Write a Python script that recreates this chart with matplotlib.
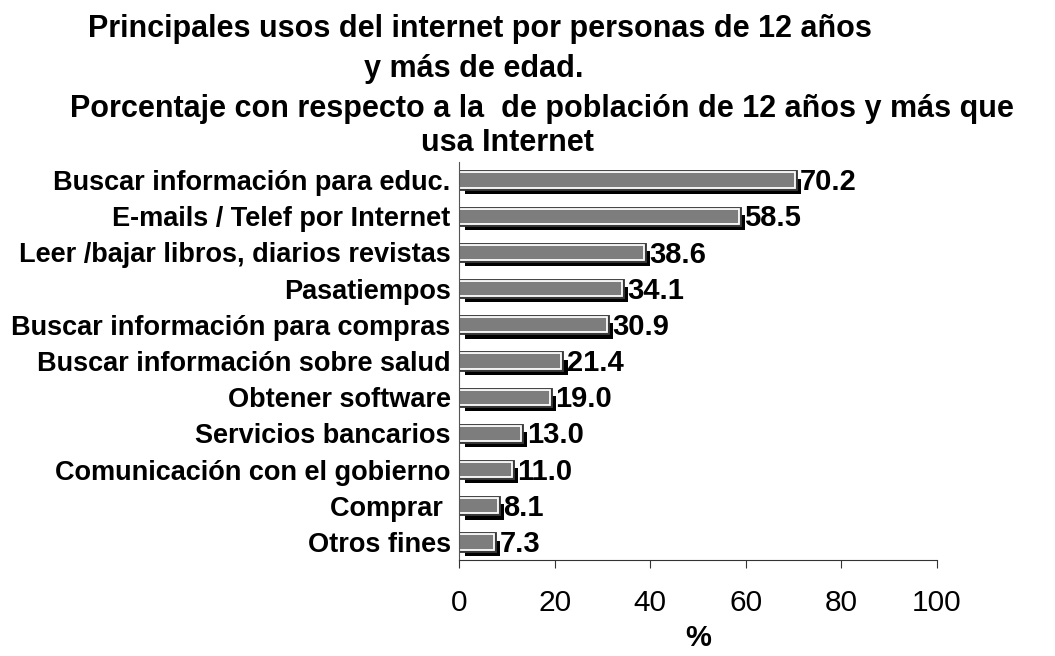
import matplotlib.pyplot as plt
import matplotlib.patheffects as pe

plt.rcParams['font.family'] = ['Liberation Sans', 'DejaVu Sans']

# datos (de arriba hacia abajo)
usos = ["Buscar información para educ.", "E-mails / Telef por Internet",
        "Leer /bajar libros, diarios revistas", "Pasatiempos",
        "Buscar información para compras", "Buscar información sobre salud",
        "Obtener software", "Servicios bancarios",
        "Comunicación con el gobierno", "Comprar ", "Otros fines"]
porcentajes = [70.2, 58.5, 38.6, 34.1, 30.9, 21.4, 19.0, 13.0, 11.0, 8.1, 7.3]
ticks_x = [0, 20, 40, 60, 80, 100]

fig = plt.figure(figsize=(10.55, 6.56), dpi=100)
ax = fig.add_axes([459 / 1055, 1 - 560 / 656, (937 - 459) / 1055, (560 - 162) / 656])

pos = list(range(len(usos)))[::-1]
efectos = [pe.SimplePatchShadow(offset=(4.5, -4.5), shadow_rgbFace='black', alpha=1.0),
           pe.Stroke(linewidth=3.5, foreground='#3a3a3a'),
           pe.Normal()]
barras = ax.barh(pos, porcentajes, height=0.42, color='#7d7d7d',
                 edgecolor='white', linewidth=1.3)
for b in barras:
    b.set_path_effects(efectos)

for y, v in zip(pos, porcentajes):
    ax.annotate(f"{v:.1f}", (v, y), xytext=(4, -1.5), textcoords='offset points',
                va='center', ha='left', fontsize=21, fontweight='bold')

ax.set_xlim(0, 100)
ax.set_ylim(-0.5, len(usos) - 0.5)
ax.set_yticks(pos)
ax.set_yticklabels(usos, fontsize=19.5, fontweight='bold')
ax.set_xticks(ticks_x)
ax.set_xticklabels([str(t) for t in ticks_x], fontsize=21.5)
ax.tick_params(axis='y', length=0, pad=6)
ax.tick_params(axis='x', length=6, pad=15, color='#333333')
ax.set_xlabel('%', fontsize=21, fontweight='bold', labelpad=5)
ax.spines['top'].set_visible(False)
ax.spines['right'].set_visible(False)
ax.spines['left'].set_color('#555555')
ax.spines['bottom'].set_color('#333333')

# titulo en cuatro lineas
fig.text(480 / 1055, 1 - 29 / 656, "Principales usos del internet por personas de 12 años",
         ha='center', va='center', fontsize=22, fontweight='bold')
fig.text(474 / 1055, 1 - 69 / 656, "y más de edad.",
         ha='center', va='center', fontsize=22, fontweight='bold')
fig.text(542 / 1055, 1 - 109 / 656, "Porcentaje con respecto a la  de población de 12 años y más que",
         ha='center', va='center', fontsize=22, fontweight='bold')
fig.text(507 / 1055, 1 - 143 / 656, "usa Internet",
         ha='center', va='center', fontsize=22, fontweight='bold')

fig.savefig('out.png', dpi=100, facecolor='white')
